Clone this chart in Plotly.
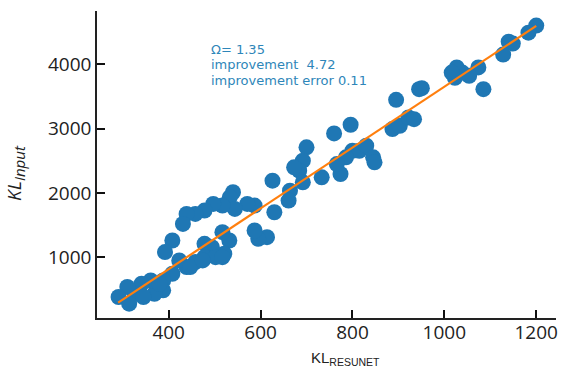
import plotly.graph_objects as go

kl_resunet = [1200, 1183, 1149, 1140, 1128, 1085, 1074, 1054, 1039, 1023, 1027, 1016,
              951, 945, 895, 887, 903, 922, 934, 796, 760, 800, 815, 830, 845, 848,
              786, 774, 766, 733, 700, 692, 684, 673, 692, 664, 661, 626, 630, 614,
              595, 587, 587, 571, 540, 533, 544, 517, 497, 478, 458, 439, 431, 408,
              392, 532, 521, 517, 494, 478, 458, 439, 408, 423, 388, 388, 369, 361,
              341, 326, 310, 291, 314, 345, 380, 478, 502, 517, 447, 474]
kl_input = [4600, 4490, 4320, 4350, 4150, 3612, 3950, 3820, 3870, 3790, 3950, 3870,
            3628, 3612, 3447, 2993, 3045, 3173, 3147, 3060, 2925, 2657, 2657, 2735, 2554, 2476,
            2554, 2296, 2450, 2244, 2709, 2502, 2347, 2399, 2166, 2037, 1883, 2192, 1702, 1315,
            1289, 1418, 1805, 1831, 2012, 1934, 1754, 1805, 1831, 1728, 1676, 1676, 1521, 1263,
            1083, 1263, 1057, 1392, 1160, 1212, 928, 850, 747, 954, 644, 489, 437, 644,
            592, 437, 541, 386, 282, 386, 592, 1005, 1005, 1005, 850, 954]

fit_slope = 4.72
fit_intercept = -1070
fit_x = [290, 1200]
fit_y = [fit_intercept + fit_slope * v for v in fit_x]

x_ticks = [400, 600, 800, 1000, 1200]
y_ticks = [1000, 2000, 3000, 4000]
note_lines = ["Ω= 1.35", "improvement  4.72", "improvement error 0.11"]

fig = go.Figure()
fig.add_trace(go.Scatter(x=kl_resunet, y=kl_input, mode="markers",
                         marker=dict(size=16, color="#1f77b4", line=dict(width=0)),
                         showlegend=False))
fig.add_trace(go.Scatter(x=fit_x, y=fit_y, mode="lines",
                         line=dict(color="#ff7f0e", width=2.2), showlegend=False))

for i, line in enumerate(note_lines):
    fig.add_annotation(x=487, y=4380, xref="x", yref="y", xanchor="left", yanchor="top",
                       yshift=-15.5 * i, text=line, showarrow=False, align="left",
                       font=dict(family="DejaVu Sans", size=13, color="#2e86b9"))

fig.add_annotation(x=0.542, y=0, xref="paper", yref="paper", xanchor="center", yanchor="top",
                   yshift=-29, text="KL<sub>RESUNET</sub>", showarrow=False,
                   font=dict(family="Liberation Sans", size=15, color="#222"))
fig.add_annotation(x=-0.18, y=0.5, xref="paper", yref="paper", xanchor="center", yanchor="middle",
                   yshift=-8, textangle=-90,
                   text="<i>KL<sub><span style='font-size:15px'>Input</span></sub></i>",
                   showarrow=False,
                   font=dict(family="Open Sans", size=19, color="#222"))

axis_common = dict(showgrid=False, zeroline=False, showline=True, linecolor="#222",
                   linewidth=1.5, ticks="inside", ticklen=8, tickwidth=2, tickcolor="#111",
                   tickfont=dict(family="Open Sans", size=19, color="#222"), mirror=False)

fig.update_xaxes(range=[244, 1243], tickvals=x_ticks, ticklabelstandoff=-4, **axis_common)
fig.update_yaxes(range=[60, 4826], tickvals=y_ticks, **axis_common)

fig.update_layout(width=563, height=367, margin=dict(l=97, r=5, t=11, b=49),
                  plot_bgcolor="white", paper_bgcolor="white")

fig.write_html("out.html", config={"displayModeBar": False},
               post_script="document.body.style.margin='0px';")
